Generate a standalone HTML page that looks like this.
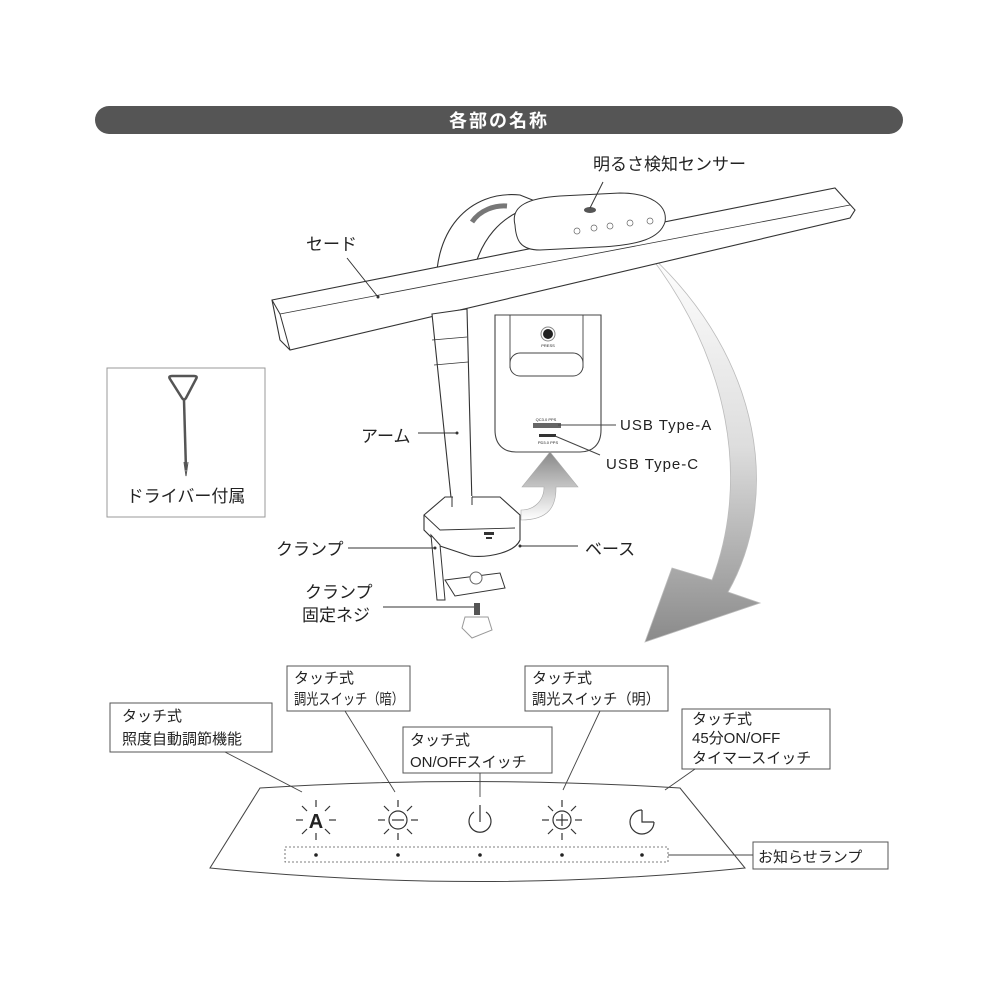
<!DOCTYPE html>
<html><head><meta charset="utf-8"><style>
html,body{margin:0;padding:0;background:#fff;}
svg{display:block;}
text{font-family:"Liberation Sans","Noto Sans CJK JP",sans-serif;fill:#222;}
</style></head><body>
<svg width="1000" height="1000" viewBox="0 0 1000 1000" xmlns="http://www.w3.org/2000/svg">
<defs>
<linearGradient id="ga" x1="0" y1="0" x2="0" y2="1">
<stop offset="0" stop-color="#fff"/><stop offset="0.5" stop-color="#ddd"/><stop offset="1" stop-color="#8a8a8a"/>
</linearGradient>
<linearGradient id="gb" x1="0" y1="1" x2="0" y2="0">
<stop offset="0" stop-color="#fff"/><stop offset="1" stop-color="#888"/>
</linearGradient>
</defs>
<rect x="95" y="106" width="808" height="28" rx="14" fill="#555"/>
<text x="499" y="127" font-size="18" text-anchor="middle" style="fill:#fff;letter-spacing:2px" font-weight="bold">各部の名称</text>

<path d="M648,253 C765,360 780,500 728,592 L760,603 L645,642 L672,568 L712,580 C750,480 730,360 648,253 Z" fill="url(#ga)" stroke="#bbb" stroke-width="0.8"/>

<!-- arch of arm -->
<path d="M437,300 C430,230 470,190 520,195 L545,205 C505,208 472,240 470,300 Z" fill="#fff" stroke="#333" stroke-width="1.1"/>
<path d="M472,222 C480,210 495,205 507,206" stroke="#777" stroke-width="5" fill="none"/>
<!-- shade -->
<path d="M272,300 L835,188 L855,210 L850,218 L290,350 L280,340 Z" fill="#fff" stroke="#333" stroke-width="1.1"/>
<path d="M272,300 L280,314 L290,350" fill="none" stroke="#333" stroke-width="1"/>
<path d="M280,314 L850,205" stroke="#333" stroke-width="0.8" fill="none"/>
<!-- control box -->
<path d="M515,225 C510,205 530,198 560,196 L620,193 C650,193 668,205 665,222 C660,238 640,245 600,247 L540,250 C520,250 516,240 515,225 Z" fill="#fff" stroke="#333" stroke-width="1"/>
<ellipse cx="590" cy="210" rx="6" ry="3" fill="#555"/>
<g fill="none" stroke="#666" stroke-width="0.7">
<circle cx="577" cy="231" r="3"/><circle cx="594" cy="228" r="3"/><circle cx="610" cy="226" r="3"/><circle cx="630" cy="223" r="3"/><circle cx="650" cy="221" r="3"/>
</g>
<line x1="590" y1="208" x2="603" y2="182" stroke="#333" stroke-width="1"/>
<text x="593" y="170" font-size="17">明るさ検知センサー</text>

<!-- arm -->
<path d="M432,314 L467,309 L472,505 L452,507 Z" fill="#fff" stroke="#333" stroke-width="1.1"/>
<line x1="432" y1="340" x2="467" y2="337" stroke="#333" stroke-width="0.8"/>
<line x1="434" y1="365" x2="468" y2="362" stroke="#333" stroke-width="0.8"/>
<!-- base -->
<path d="M424,515 L445,497 L500,497 L520,515 L520,540 C515,552 490,558 470,556 L440,546 L424,530 Z" fill="#fff" stroke="#333" stroke-width="1.1"/>
<rect x="453" y="496" width="19" height="10" fill="#fff"/>
<path d="M452,507 L452,497 M472,497 L472,505" stroke="#333" stroke-width="1"/>
<path d="M424,515 L440,530 L515,528" fill="none" stroke="#333" stroke-width="0.9"/>
<rect x="484" y="532" width="10" height="3" fill="#333"/><rect x="486" y="537" width="6" height="2" fill="#333"/>
<!-- clamp -->
<path d="M431,535 L440,545 L445,600 L437,600 Z" fill="#fff" stroke="#333" stroke-width="1"/>
<path d="M445,580 L500,573 L505,588 L455,596 Z" fill="#fff" stroke="#333" stroke-width="1"/>
<circle cx="476" cy="578" r="6" fill="#fff" stroke="#666"/>
<rect x="474" y="603" width="6" height="12" fill="#555"/>
<path d="M465,617 L488,617 L492,630 L472,638 L462,628 Z" fill="#fff" stroke="#999"/>

<!-- inset -->
<path d="M495,315 L601,315 L601,430 C601,445 592,452 580,452 L516,452 C504,452 495,445 495,430 Z" fill="#fff" stroke="#444" stroke-width="1.1"/>
<path d="M510,315 L510,368 M583,315 L583,368" stroke="#444" stroke-width="0.9"/>
<rect x="510" y="353" width="73" height="23" rx="10" fill="#fff" stroke="#444"/>
<circle cx="548" cy="334" r="7" fill="#fff" stroke="#888"/><circle cx="548" cy="334" r="5" fill="#222"/>
<text x="548" y="347" font-size="4" text-anchor="middle">PRESS</text>
<text x="546" y="421" font-size="4" text-anchor="middle">QC3.0 PPS</text>
<rect x="533" y="423" width="28" height="5" fill="#666"/>
<rect x="539" y="434" width="17" height="3" fill="#333"/>
<text x="548" y="444" font-size="4" text-anchor="middle">PD3.0 PPS</text>
<line x1="558" y1="425" x2="616" y2="425" stroke="#444"/>
<line x1="555" y1="436" x2="600" y2="455" stroke="#444"/>
<text x="620" y="430" font-size="15" style="letter-spacing:1px">USB Type-A</text>
<text x="606" y="469" font-size="15" style="letter-spacing:1px">USB Type-C</text>
<path d="M521,520 C550,520 556,505 556,488 L556,487 L578,487 L550,452 L522,487 L544,487 C544,500 535,510 521,510 Z" fill="url(#gb)" stroke="#aaa" stroke-width="0.6"/>

<text x="306" y="250" font-size="17">セード</text>
<line x1="347" y1="258" x2="378" y2="297" stroke="#333"/><circle cx="378" cy="297" r="1.5" fill="#333"/>
<text x="361" y="442" font-size="17">アーム</text>
<line x1="418" y1="433" x2="456" y2="433" stroke="#333"/><circle cx="457" cy="433" r="1.5" fill="#333"/>
<text x="276" y="555" font-size="17">クランプ</text>
<line x1="348" y1="548" x2="435" y2="548" stroke="#333"/><circle cx="435" cy="548" r="1.5" fill="#333"/>
<text x="585" y="555" font-size="17">ベース</text>
<line x1="520" y1="546" x2="578" y2="546" stroke="#333"/><circle cx="520" cy="546" r="1.5" fill="#333"/>
<text x="305" y="598" font-size="17">クランプ</text>
<text x="302" y="621" font-size="17">固定ネジ</text>
<line x1="383" y1="607" x2="474" y2="607" stroke="#333"/>

<!-- driver box -->
<rect x="107" y="368" width="158" height="149" fill="#fff" stroke="#999" stroke-width="1"/>
<path d="M170,379 Q168,376 172,376 L194,376 Q198,376 196,379 L186,398 Q184,401 182,398 Z" fill="none" stroke="#555" stroke-width="2.5" stroke-linejoin="round"/>
<path d="M184,400 L186,470" stroke="#555" stroke-width="2.5"/>
<path d="M184,462 L186,476 L188,462" fill="none" stroke="#555"/>
<text x="186" y="502" font-size="17" text-anchor="middle">ドライバー付属</text>

<!-- bottom panel -->
<path d="M260,788 Q470,775 680,788 L745,868 Q480,895 210,868 Z" fill="#fff" stroke="#444" stroke-width="1"/>
<rect x="285" y="847" width="383" height="15" fill="none" stroke="#555" stroke-width="0.8" stroke-dasharray="2,2"/>
<g fill="#222"><circle cx="316" cy="855" r="1.8"/><circle cx="398" cy="855" r="1.8"/><circle cx="480" cy="855" r="1.8"/><circle cx="562" cy="855" r="1.8"/><circle cx="642" cy="855" r="1.8"/></g>
<g stroke="#333" stroke-width="1.2" fill="none">
<g id="rays" transform="translate(316,820)">
<line x1="0" y1="-20" x2="0" y2="-13"/><line x1="0" y1="13" x2="0" y2="20"/><line x1="-20" y1="0" x2="-13" y2="0"/><line x1="13" y1="0" x2="20" y2="0"/>
<line x1="-14" y1="-14" x2="-9" y2="-9"/><line x1="14" y1="-14" x2="9" y2="-9"/><line x1="-14" y1="14" x2="-9" y2="9"/><line x1="14" y1="14" x2="9" y2="9"/>
</g>
<use href="#rays" x="82"/><use href="#rays" x="246"/>
<circle cx="398" cy="820" r="9"/><line x1="392" y1="820" x2="404" y2="820"/>
<circle cx="562" cy="820" r="9"/><line x1="556" y1="820" x2="568" y2="820"/><line x1="562" y1="814" x2="562" y2="826"/>
<path d="M474,812 A11,11 0 1 0 486,812"/><line x1="480" y1="805" x2="480" y2="822"/>
<path d="M642,810 A12,12 0 1 0 654,822"/><path d="M642,810 L642,822 L654,822"/>
</g>
<text x="316" y="828" font-size="20" text-anchor="middle" font-weight="bold">A</text>
<g fill="#fff" stroke="#555" stroke-width="1">
<rect x="110" y="703" width="162" height="49"/>
<rect x="287" y="666" width="123" height="45"/>
<rect x="403" y="727" width="149" height="46"/>
<rect x="525" y="666" width="143" height="45"/>
<rect x="682" y="709" width="148" height="60"/>
<rect x="753" y="842" width="135" height="27"/>
</g>
<g stroke="#444" stroke-width="0.9">
<line x1="225" y1="752" x2="302" y2="792"/>
<line x1="345" y1="711" x2="395" y2="792"/>
<line x1="480" y1="773" x2="480" y2="797"/>
<line x1="600" y1="711" x2="563" y2="790"/>
<line x1="695" y1="769" x2="665" y2="790"/>
<line x1="668" y1="855" x2="753" y2="855"/>
</g>
<g font-size="15">
<text x="122" y="721">タッチ式</text><text x="122" y="744">照度自動調節機能</text>
<text x="294" y="683">タッチ式</text><text x="294" y="704" textLength="110" lengthAdjust="spacingAndGlyphs">調光スイッチ（暗）</text>
<text x="410" y="745">タッチ式</text><text x="410" y="767">ON/OFFスイッチ</text>
<text x="532" y="683">タッチ式</text><text x="532" y="704" textLength="128" lengthAdjust="spacingAndGlyphs">調光スイッチ（明）</text>
<text x="692" y="724">タッチ式</text><text x="692" y="743">45分ON/OFF</text><text x="692" y="763">タイマースイッチ</text>
<text x="758" y="862">お知らせランプ</text>
</g>
</svg>
</body></html>
